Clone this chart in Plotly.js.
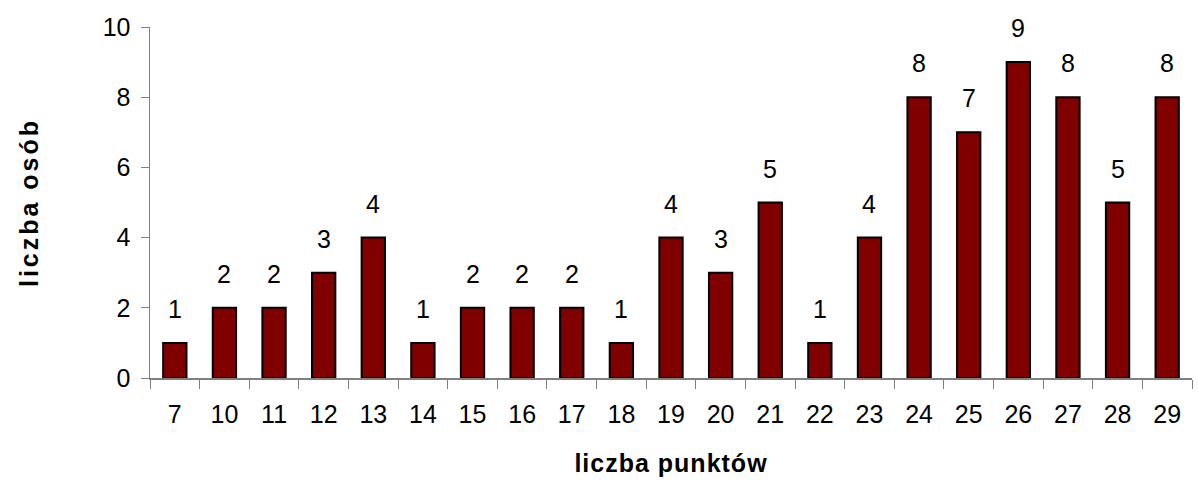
<!DOCTYPE html>
<html><head><meta charset="utf-8">
<script src="https://cdn.plot.ly/plotly-3.0.1.min.js"></script>
<style>body{margin:0;background:#fff}
.xtitle{letter-spacing:1px}
.ytitle{letter-spacing:3px}
</style>
</head><body>
<div id="chart" style="width:1198px;height:497px"></div>
<script>
const categories = ["7","10","11","12","13","14","15","16","17","18","19","20","21","22","23","24","25","26","27","28","29"];
const counts = [1,2,2,3,4,1,2,2,2,1,4,3,5,1,4,8,7,9,8,5,8];
const yTicks = [0,2,4,6,8,10];

const font = "Liberation Sans, Arial, sans-serif";
const annotations = categories.map((c,i)=>({
  x: i, y: counts[i], xref:'x', yref:'y', text: String(counts[i]), showarrow:false,
  yanchor:'bottom', yshift:18, font:{family:font,size:25,color:'#000'}
}));

Plotly.newPlot('chart',[{
  type:'bar', x:categories, y:counts,
  marker:{color:'#800000', line:{color:'#000', width:2}},
  hoverinfo:'none'
}],{
  width:1198, height:497,
  margin:{l:150,r:6,t:27,b:119},
  paper_bgcolor:'#fff', plot_bgcolor:'#fff',
  bargap:0.53,
  font:{family:font,size:25,color:'#000'},
  showlegend:false,
  xaxis:{type:'category', tickson:'boundaries', ticks:'outside', ticklen:9, tickcolor:'#808080',
    showline:true, linecolor:'#808080', linewidth:1.5, showgrid:false, zeroline:false,
    ticklabelstandoff:13, tickfont:{size:25},
    title:{text:'<b>liczba punktów</b>', font:{size:25}, standoff:28}},
  yaxis:{range:[0,10], tickvals:yTicks, ticks:'outside', ticklen:8, tickcolor:'#808080',
    showline:true, linecolor:'#808080', linewidth:1.5, showgrid:false, zeroline:false,
    tickfont:{size:25}, ticklabelstandoff:5,
    title:{text:'<b>liczba osób</b>', font:{size:25}, standoff:57}},
  annotations:annotations
},{staticPlot:true});
</script>
</body></html>
